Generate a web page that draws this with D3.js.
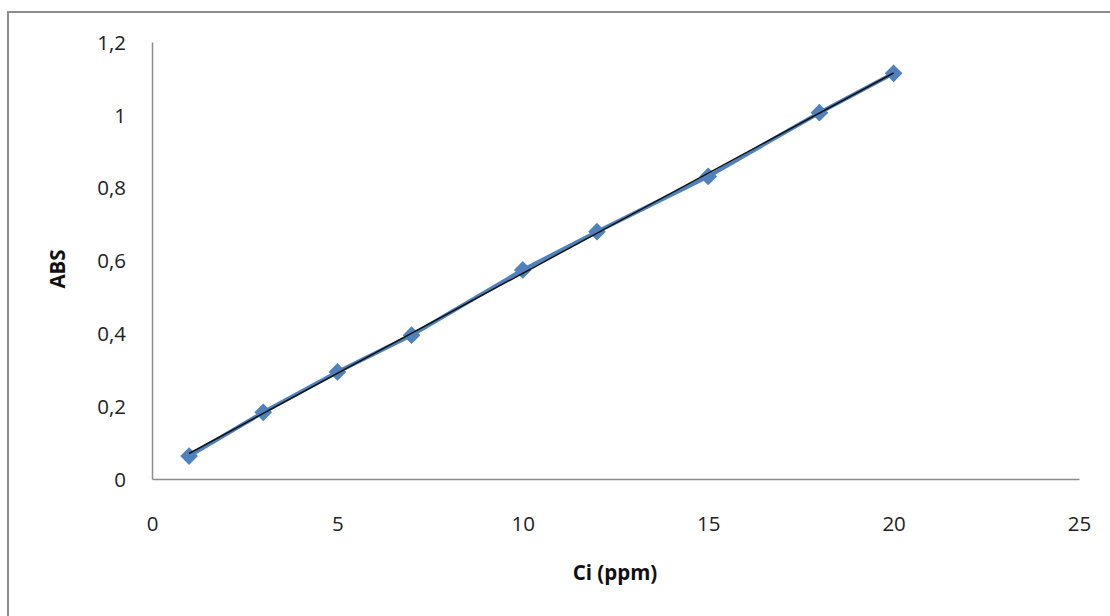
<!DOCTYPE html>
<html><head><meta charset="utf-8">
<script src="https://cdn.jsdelivr.net/npm/d3@7"></script>
<style>body{margin:0;background:#fff}svg{display:block}</style>
</head><body>
<svg id="c" width="1110" height="616"></svg>
<script>
const concentrations = [1, 3, 5, 7, 10, 12, 15, 18, 20];
const absorbance = [0.063, 0.183, 0.294, 0.395, 0.574, 0.679, 0.831, 1.006, 1.114];
const xTicks = [0, 5, 10, 15, 20, 25];
const yTicks = [0, 0.2, 0.4, 0.6, 0.8, 1, 1.2];
const xTitle = "Ci (ppm)";
const yTitle = "ABS";

const svg = d3.select("#c");
const font = "'Open Sans', 'Noto Sans', sans-serif";
svg.append("rect").attr("x", 8).attr("y", 12).attr("width", 1120).attr("height", 620)
  .attr("fill", "#fff").attr("stroke", "#8c8c8c").attr("stroke-width", 2);

const x = d3.scaleLinear().domain([0, 25]).range([152, 1079]);
const y = d3.scaleLinear().domain([0, 1.2]).range([479, 42]);
const fmt = d => d3.format("")(d).replace(".", ",");

const xAxis = svg.append("g").attr("transform", `translate(0,${y(0)})`)
  .call(d3.axisBottom(x).tickValues(xTicks).tickSize(0).tickPadding(37).tickFormat(fmt));
const yAxis = svg.append("g").attr("transform", `translate(${x(0)},0)`)
  .call(d3.axisLeft(y).tickValues(yTicks).tickSize(0).tickPadding(26).tickFormat(fmt));
[xAxis, yAxis].forEach(a => {
  a.select(".domain").attr("stroke", "#8c8c8c").attr("stroke-width", 1.5);
  a.selectAll("text").attr("font-family", font).attr("font-size", 20.5).attr("fill", "#222");
});
yAxis.selectAll("text").attr("dy", "0.35em");

const pts = concentrations.map((c, i) => [c, absorbance[i]]);
svg.append("path").datum(pts)
  .attr("d", d3.line().x(d => x(d[0])).y(d => y(d[1])))
  .attr("fill", "none").attr("stroke", "#4f81bd").attr("stroke-width", 4);

svg.append("g").selectAll("path").data(pts).join("path")
  .attr("d", d3.symbol().type(d3.symbolDiamond2).size(200))
  .attr("transform", d => `translate(${x(d[0])},${y(d[1])})`)
  .attr("fill", "#4f81bd");

// linear regression trend line
const mx = d3.mean(concentrations), my = d3.mean(absorbance);
const slope = d3.sum(pts, d => (d[0] - mx) * (d[1] - my)) / d3.sum(pts, d => (d[0] - mx) ** 2);
const icpt = my - slope * mx;
const xmin = d3.min(concentrations), xmax = d3.max(concentrations);
svg.append("line")
  .attr("x1", x(xmin)).attr("y1", y(icpt + slope * xmin))
  .attr("x2", x(xmax)).attr("y2", y(icpt + slope * xmax))
  .attr("stroke", "#111").attr("stroke-width", 1.5);

svg.append("text").attr("x", 615).attr("y", 580).attr("text-anchor", "middle")
  .attr("font-family", font).attr("font-size", 20.5).attr("font-weight", "bold").attr("fill", "#111")
  .text(xTitle);
svg.append("text").attr("transform", "translate(65,269) rotate(-90)").attr("text-anchor", "middle")
  .attr("font-family", font).attr("font-size", 20.5).attr("font-weight", "bold").attr("fill", "#111")
  .text(yTitle);
</script>
</body></html>
